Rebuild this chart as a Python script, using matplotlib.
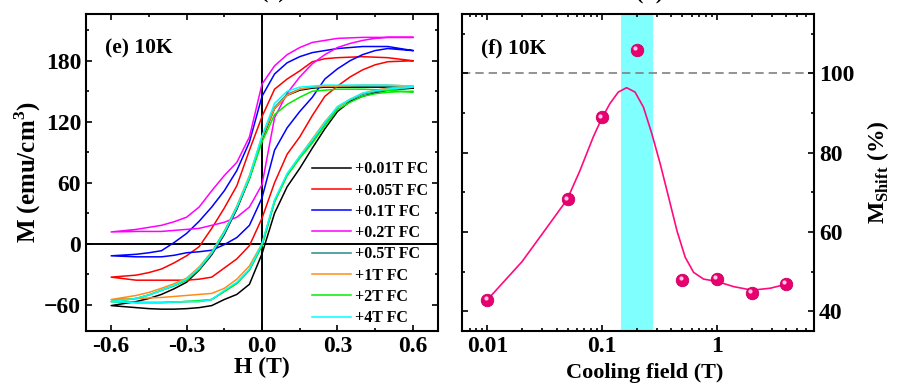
import matplotlib
matplotlib.use("Agg")
import matplotlib.pyplot as plt
from matplotlib.ticker import MultipleLocator, FixedLocator, LogLocator, NullFormatter
from matplotlib.transforms import offset_copy

plt.rcParams["font.family"] = ["Liberation Serif", "DejaVu Serif"]
plt.rcParams["font.weight"] = "bold"
plt.rcParams["axes.labelweight"] = "bold"
plt.rcParams["mathtext.fontset"] = "custom"
plt.rcParams["mathtext.rm"] = "Liberation Serif:bold"
plt.rcParams["mathtext.bf"] = "Liberation Serif:bold"

# ---- panel (e): M-H loops at 10 K, field grid shared by all branches ----
h_field = [-0.6, -0.5, -0.45, -0.4, -0.35, -0.3, -0.25, -0.2, -0.15, -0.1, -0.05, 0.0,
           0.05, 0.1, 0.15, 0.2, 0.25, 0.3, 0.35, 0.4, 0.45, 0.5, 0.6]

black_desc = [-61, -57, -54, -50, -44.5, -38, -26, -11, 9, 34, 64, 103,
              133, 146, 151, 153, 154, 154, 154, 154, 154, 154, 153]
black_asc = [-61, -63, -64, -64.5, -64.5, -64, -63, -61, -55, -50, -40, -10,
             30, 56, 74, 94, 113, 130, 140, 145, 148.5, 151, 153]
red_desc = [-33, -31, -28.5, -25, -19, -12, -3, 15, 35, 57, 92, 125,
            152, 162, 170, 179, 182, 183, 183.5, 184, 183.5, 183, 180]
red_asc = [-33, -36, -36, -36, -36, -36, -35, -33, -24, -15, -2, 25,
           60, 88, 105, 126, 145, 155, 164, 171, 176, 179, 180]
blue_desc = [-12, -10.5, -9, -7, 1, 10, 22, 36, 52, 72, 100, 145,
             167, 178, 184, 188, 190, 192, 193, 194, 194, 194, 190]
blue_asc = [-12, -13, -13, -13, -11.5, -9, -8, -6.5, -1, 6, 18, 45,
            92, 114, 130, 144, 162, 172, 180, 186, 190, 192, 190]
pink_desc = [11.5, 14, 16, 18, 21.5, 26, 36, 52, 67, 80, 105, 157,
             175, 186, 193, 198, 200, 202, 202.5, 203, 203, 203, 203]
pink_asc = [11.5, 12, 12, 12, 13, 14, 15, 18, 21, 26, 36, 58,
            124, 148, 164, 177, 186, 193, 197, 200, 202, 203, 203]
teal_desc = [-57, -54, -50.5, -46, -41.5, -36, -25, -10, 10, 35, 65, 104,
             134, 147, 152, 154, 155, 155, 155, 155, 155, 155, 154]
teal_asc = [-57, -58, -58, -58, -57.5, -57, -57, -55, -47, -39, -26, -2,
            42, 68, 85, 100, 118, 134, 141.5, 147, 149.5, 151, 154]
orange_desc = [-55, -51, -48, -44, -39.5, -34, -23, -8, 12, 37, 67, 105,
               133, 146, 152, 154, 155, 155, 155.5, 156, 156, 156, 155]
orange_asc = [-55, -54, -53.5, -53, -52, -51, -50, -49, -44, -35, -22, 0,
              42, 68, 86, 103, 120, 134, 142, 148, 151, 153, 155]
green_desc = [-57, -54, -50.5, -46, -41.5, -36, -25, -9, 12, 36, 64, 100,
              127, 137, 144, 150, 151, 152, 152, 152, 151.5, 151, 149]
green_asc = [-57, -58, -58, -58, -57.5, -57, -56, -55, -47, -39, -26, -2,
             41, 67, 84, 99, 116, 132, 139, 145, 147.5, 149, 150]
cyan_desc = [-57, -54, -50.5, -46, -41, -35, -24, -9, 11, 36, 66, 106,
             138, 150, 154, 155, 156, 156, 156, 156, 156, 156, 155]
cyan_asc = [-57, -58, -58, -58, -57.5, -57, -57, -55, -46, -38, -25, 0,
            43, 69, 86, 102, 119, 135, 142, 148, 150.5, 152, 154]

loop_labels = ["+0.01T FC", "+0.05T FC", "+0.1T FC", "+0.2T FC",
               "+0.5T FC", "+1T FC", "+2T FC", "+4T FC"]
loop_colors = ["#000000", "#FF0000", "#0000FF", "#FF00FF",
               "#2A8A8A", "#FF8C1A", "#00EE00", "#00FFFF"]
loops = [(black_desc, black_asc), (red_desc, red_asc), (blue_desc, blue_asc),
         (pink_desc, pink_asc), (teal_desc, teal_asc), (orange_desc, orange_asc),
         (green_desc, green_asc), (cyan_desc, cyan_asc)]

# ---- panel (f): exchange-bias shift vs cooling field ----
cooling_field = [0.01, 0.05, 0.1, 0.2, 0.5, 1, 2, 4]
m_shift = [42.9, 68.2, 88.9, 106, 47.8, 48.1, 44.7, 46.9]
fit_field = [0.01, 0.02, 0.03, 0.0495, 0.064, 0.0836, 0.0989, 0.1167, 0.138, 0.163,
             0.193, 0.2286, 0.2704, 0.3199, 0.3784, 0.4477, 0.5284, 0.6252, 0.7638,
             1.0, 1.396, 2.018, 2.917, 4.0]
fit_shift = [42.9, 52.5, 59.5, 68.2, 75.5, 84, 88.6, 92.4, 95.3, 96.4,
             95.3, 91.5, 84.8, 77.2, 68.8, 60.3, 53.6, 49.8, 48.1,
             47.5, 46.2, 45.3, 45.8, 46.8]
band_field = [0.145, 0.275]

fig = plt.figure(figsize=(9.1, 3.88), dpi=100)
ax1 = fig.add_axes([86 / 910, 57 / 388, 352 / 910, 317 / 388])
ax2 = fig.add_axes([462 / 910, 57 / 388, 352 / 910, 317 / 388])

for (desc, asc), color, label in zip(loops, loop_colors, loop_labels):
    ax1.plot(h_field[::-1] + h_field, desc[::-1] + asc, color=color, lw=1.1, label=label)
ax1.axhline(0, color="black", lw=1.4, zorder=1)
ax1.axvline(0, color="black", lw=1.4, zorder=1)
ax1.set_xlim(-0.7, 0.7)
ax1.set_ylim(-86, 226)
ax1.xaxis.set_major_locator(FixedLocator([-0.6, -0.3, 0.0, 0.3, 0.6]))
ax1.set_xticklabels(["-0.6", "-0.3", "0.0", "0.3", "0.6"])
ax1.xaxis.set_minor_locator(MultipleLocator(0.15))
ax1.yaxis.set_major_locator(FixedLocator([-60, 0, 60, 120, 180]))
ax1.yaxis.set_minor_locator(MultipleLocator(30))
ax1.set_xlabel("H (T)", fontsize=17, labelpad=0)
ax1.set_ylabel("M (emu/cm$^{\\mathrm{3}}$)", fontsize=18, labelpad=1)
ax1.text(0.055, 0.875, "(e) 10K", transform=ax1.transAxes, fontsize=15.5)
ax1.legend(loc="lower right", bbox_to_anchor=(1.0, -0.015), frameon=False, fontsize=11.5,
           handlelength=2.4, handletextpad=0.3, labelspacing=0.33, borderaxespad=0.2)

ax2.axvspan(band_field[0], band_field[1], color="#80FFFF", lw=0, zorder=0)
ax2.axhline(100, color="#808080", lw=1.2, ls=(0, (5, 3)), zorder=1)
ax2.plot(fit_field, fit_shift, color="#FF0A80", lw=1.2, zorder=2)
ax2.plot(cooling_field, m_shift, "o", ms=9, color="#E8006E", mec="#C80060", mew=0.6, zorder=3)
shine = offset_copy(ax2.transData, fig=fig, x=-1.3, y=1.3, units="points")
ax2.plot(cooling_field, m_shift, "o", ms=3, color="#FFC8E6", mew=0, transform=shine, zorder=4)
ax2.set_xscale("log")
ax2.set_xlim(0.006, 7)
ax2.set_ylim(35, 115)
ax2.xaxis.set_major_locator(FixedLocator([0.01, 0.1, 1]))
ax2.set_xticklabels(["0.01", "0.1", "1"])
ax2.xaxis.set_minor_locator(LogLocator(base=10, subs=range(2, 10)))
ax2.xaxis.set_minor_formatter(NullFormatter())
ax2.yaxis.set_major_locator(FixedLocator([40, 60, 80, 100]))
ax2.yaxis.set_minor_locator(MultipleLocator(10))
ax2.yaxis.set_label_position("right")
ax2.set_xlabel("Cooling field (T)", fontsize=16, labelpad=2)
ax2.xaxis.set_label_coords(0.52, -0.1)
ax2.xaxis.label.set_verticalalignment("top")
ax2.set_ylabel("M$_{\\mathrm{Shift}}$ (%)", fontsize=17, labelpad=8)
ax2.text(0.055, 0.875, "(f) 10K", transform=ax2.transAxes, fontsize=15.5)

for ax in (ax1, ax2):
    for side in ax.spines.values():
        side.set_linewidth(1.5)
    ax.tick_params(which="both", direction="in", top=True, right=True, labelsize=17, width=1.2)
    ax.tick_params(which="major", length=4.5)
    ax.tick_params(which="minor", length=2.5)
ax2.tick_params(labelleft=False, labelright=True)

fig.text(273 / 910, 1 + 1.5 / 388, "(c)", ha="center", va="baseline", fontsize=16)
fig.text(650 / 910, 1 + 1.5 / 388, "(d)", ha="center", va="baseline", fontsize=16)

fig.savefig("out.png", dpi=100)
